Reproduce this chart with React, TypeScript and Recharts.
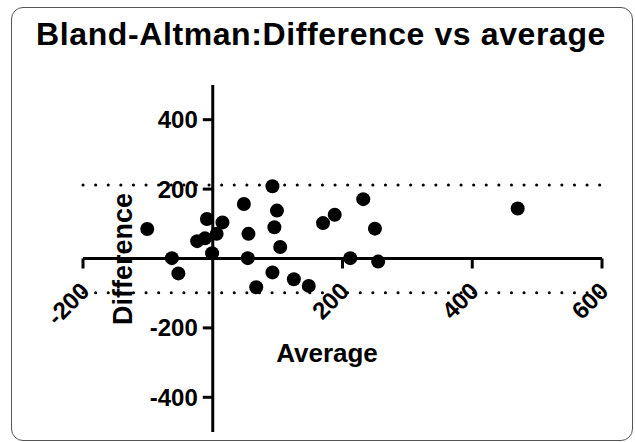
import React from 'react'
import { ScatterChart, Scatter, XAxis, YAxis, ReferenceLine, ReferenceDot } from 'recharts'

// averages (x) and differences (y)
const averages = [-101, -63, -53, -24, -12, -9, 6, 15, -1, 48, 55, 54, 92, 99, 95, 104, 92, 67, 125, 148, 170, 188, 212, 232, 250, 255, 470]
const differences = [85, 1, -43, 50, 58, 114, 71, 104, 15, 157, 71, 1, 208, 138, 90, 33, -40, -83, -60, -79, 102, 126, 1, 171, 86, -9, 144]

const upperLimit = 212
const lowerLimit = -99

const xTicks = [-200, 200, 400, 600]
const yTicks = [400, 200, -200, -400]

const points = averages.map((x, i) => ({ x, y: differences[i] }))

const FONT = '"Liberation Sans", Arial, sans-serif'

const Dot = (props: any) => <circle cx={props.cx} cy={props.cy} r={7} fill="#000" />

const XTick = ({ cx, cy, value }: any) => (
  <g>
    <line x1={cx} y1={cy} x2={cx} y2={cy + 10} stroke="#000" strokeWidth={3} />
    <text
      x={cx + 8}
      y={cy + 34}
      transform={`rotate(-45, ${cx + 8}, ${cy + 34})`}
      textAnchor="end"
      fontFamily={FONT}
      fontWeight="bold"
      fontSize={24}
      fill="#000"
    >
      {value}
    </text>
  </g>
)

const YTick = ({ cx, cy, value }: any) => (
  <g>
    <line x1={cx - 10} y1={cy} x2={cx} y2={cy} stroke="#000" strokeWidth={3} />
    <text
      x={cx - 15}
      y={cy + 8.5}
      textAnchor="end"
      fontFamily={FONT}
      fontWeight="bold"
      fontSize={24}
      fill="#000"
    >
      {value}
    </text>
  </g>
)

export default function App() {
  return (
    <div style={{ position: 'absolute', left: 0, top: 0, width: 635, height: 442, background: '#fff' }}>
      <div
        style={{
          position: 'absolute',
          left: 11,
          top: 7,
          width: 620,
          height: 432,
          border: '1.3px solid #555',
          borderRadius: 12,
        }}
      />
      <ScatterChart width={635} height={442} margin={{ top: 85, right: 33, bottom: 10, left: 83 }}>
        <XAxis type="number" dataKey="x" domain={[-200, 600]} hide />
        <YAxis type="number" dataKey="y" domain={[-500, 500]} hide />
        <ReferenceLine y={upperLimit} stroke="#000" strokeWidth={3} strokeDasharray="0.1 12.5" strokeLinecap="round" />
        <ReferenceLine y={lowerLimit} stroke="#000" strokeWidth={3} strokeDasharray="0.1 12.5" strokeLinecap="round" />
        <ReferenceLine y={0} stroke="#000" strokeWidth={3} />
        <ReferenceLine x={0} stroke="#000" strokeWidth={3} />
        {xTicks.map((t) => (
          <ReferenceDot key={'x' + t} x={t} y={0} ifOverflow="visible" shape={(p: any) => <XTick {...p} value={t} />} />
        ))}
        {yTicks.map((t) => (
          <ReferenceDot key={'y' + t} x={0} y={t} ifOverflow="visible" shape={(p: any) => <YTick {...p} value={t} />} />
        ))}
        <Scatter data={points} shape={Dot} isAnimationActive={false} />
      </ScatterChart>
      <svg width={635} height={442} style={{ position: 'absolute', left: 0, top: 0, pointerEvents: 'none' }}>
        <text x={321} y={45} textAnchor="middle" fontFamily={FONT} fontWeight="bold" fontSize={32} letterSpacing={0.6}>
          Bland-Altman:Difference vs average
        </text>
        <text x={327} y={362} textAnchor="middle" fontFamily={FONT} fontWeight="bold" fontSize={26}>
          Average
        </text>
        <text
          x={131.5}
          y={259}
          transform="rotate(-90, 131.5, 259)"
          textAnchor="middle"
          fontFamily={FONT}
          fontWeight="bold"
          fontSize={27}
        >
          Difference
        </text>
      </svg>
    </div>
  )
}
